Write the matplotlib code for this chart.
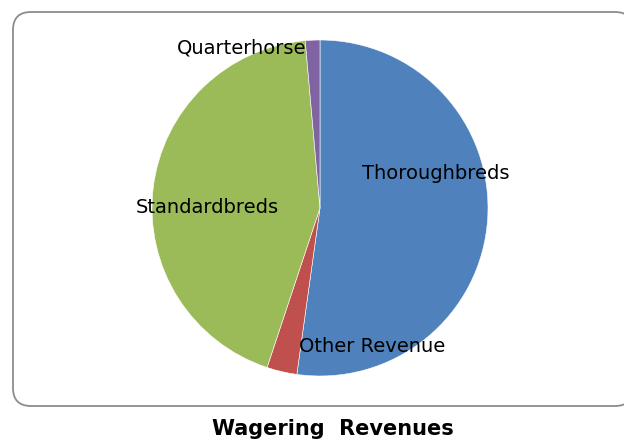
import matplotlib.pyplot as plt
from matplotlib.patches import FancyBboxPatch
from matplotlib.transforms import IdentityTransform
import numpy as np

categories = ["Thoroughbreds", "Other Revenue", "Standardbreds", "Quarterhorse"]
shares = [52.2, 2.9, 43.5, 1.4]
colors = ["#4F81BD", "#C0504D", "#9BBB59", "#8064A2"]
title = "Wagering  Revenues"

# label placement: (angle in degrees, distance as fraction of radius)
label_pos = [(16.8, 0.72), (-69.5, 0.88), (179.5, 0.67), (116.0, 1.06)]

fig = plt.figure(figsize=(6.24, 4.4), dpi=100)

# rounded frame around the chart area (pixel coords)
frame = FancyBboxPatch((13 + 18, 34 + 18), 620 - 36, 394 - 36,
                       boxstyle="round,pad=18,rounding_size=18",
                       transform=IdentityTransform(),
                       facecolor="white", edgecolor="#8c8c8c", linewidth=1.3,
                       zorder=-5)
fig.patches.append(frame)

ax = fig.add_axes([152 / 624, 64 / 440, 336 / 624, 336 / 440])
ax.set_zorder(5)
ax.patch.set_visible(False)
ax.pie(shares, colors=colors, startangle=90, counterclock=False,
       wedgeprops=dict(edgecolor="white", linewidth=0.4), radius=1.0)
ax.set_xlim(-1, 1)
ax.set_ylim(-1, 1)
ax.set_aspect("equal")
ax.axis("off")

for name, (ang, dist) in zip(categories, label_pos):
    a = np.deg2rad(ang)
    ax.text(dist * np.cos(a), dist * np.sin(a), name, ha="center", va="center",
            fontsize=14, family="DejaVu Sans", color="black")

fig.text(333 / 624, 1 - 429 / 440, title, ha="center", va="center",
         fontsize=15, fontweight="bold", family="DejaVu Sans")

fig.savefig("out.png", dpi=100)
